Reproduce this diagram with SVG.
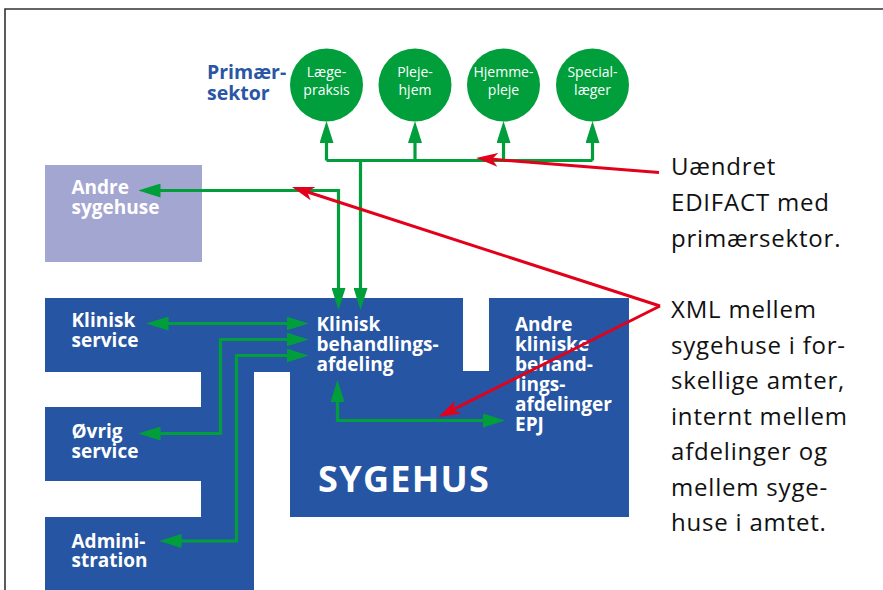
<svg xmlns="http://www.w3.org/2000/svg" width="883" height="590" viewBox="0 0 883 590">
  <style>
    .blue { fill: #2656a3; }
    .lav { fill: #a3a6d1; }
    .circ { fill: #009f3c; }
    .lbl { font-family: "Open Sans", "Liberation Sans", sans-serif; font-weight: 700; font-size: 19px; fill: #ffffff; }
    .small { font-family: "Open Sans", "Liberation Sans", sans-serif; font-size: 14px; fill: #ffffff; text-anchor: middle; }
    .note { font-family: "Open Sans", "Liberation Sans", sans-serif; font-size: 24px; letter-spacing: 0.8px; fill: #111111; }
    .prim { font-family: "Open Sans", "Liberation Sans", sans-serif; font-weight: 700; font-size: 19.5px; fill: #2a56a5; }
    .big { font-family: "Open Sans", "Liberation Sans", sans-serif; font-weight: 700; font-size: 36px; fill: #ffffff; letter-spacing: 1.3px; }
    .g { fill: none; stroke: #009f3c; stroke-width: 3.2; }
    .gm { marker-end: url(#ga); }
    .gb { marker-start: url(#ga); marker-end: url(#ga); }
    .r { fill: none; stroke: #e2001a; stroke-width: 3; marker-end: url(#ra); }
  </style>
  <defs>
    <marker id="ga" markerUnits="userSpaceOnUse" markerWidth="22" markerHeight="14" refX="12" refY="7" orient="auto-start-reverse" viewBox="0 0 22 14">
      <path d="M0,0 L22,7 L0,14 Z" fill="#009f3c"/>
    </marker>
    <marker id="ra" markerUnits="userSpaceOnUse" markerWidth="22" markerHeight="14" refX="8" refY="7" orient="auto" viewBox="0 0 22 14">
      <path d="M22,7 L0,0 L6,7 L0,14 Z" fill="#e2001a"/>
    </marker>
  </defs>

  <rect width="883" height="590" fill="#ffffff"/>
  <!-- page frame -->
  <path d="M5,590 V9 H883" fill="none" stroke="#333333" stroke-width="1.6"/>

  <!-- primary sector -->
  <g id="primaersektor">
    <text class="prim" x="207" y="79">Primær-</text>
    <text class="prim" x="207" y="99.5">sektor</text>
  </g>
  <g id="laegepraksis">
    <circle class="circ" cx="326.5" cy="85" r="36.5"/>
    <text class="small" x="326.5" y="77">Læge-</text>
    <text class="small" x="326.5" y="95">praksis</text>
  </g>
  <g id="plejehjem">
    <circle class="circ" cx="415" cy="85" r="36.5"/>
    <text class="small" x="415" y="77">Pleje-</text>
    <text class="small" x="415" y="95">hjem</text>
  </g>
  <g id="hjemmepleje">
    <circle class="circ" cx="503.5" cy="85" r="36.5"/>
    <text class="small" x="503.5" y="77">Hjemme-</text>
    <text class="small" x="503.5" y="95">pleje</text>
  </g>
  <g id="speciallaeger">
    <circle class="circ" cx="592.5" cy="85" r="36.5"/>
    <text class="small" x="592.5" y="77">Special-</text>
    <text class="small" x="592.5" y="95">læger</text>
  </g>

  <!-- other hospitals -->
  <g id="andre-sygehuse">
    <rect class="lav" x="45" y="165" width="157" height="97"/>
    <text class="lbl" x="71.5" y="193.5">Andre</text>
    <text class="lbl" x="71.5" y="214">sygehuse</text>
  </g>

  <!-- hospital body -->
  <g id="sygehus">
    <rect class="blue" x="201" y="298" width="53" height="292"/>
    <path class="blue" d="M290,298 H463 V371 H489 V298 H629 V517 H290 Z"/>
    <text class="big" x="318" y="492">SYGEHUS</text>
  </g>
  <g id="klinisk-service">
    <rect class="blue" x="45" y="298" width="246" height="74"/>
    <text class="lbl" x="71.5" y="327">Klinisk</text>
    <text class="lbl" x="71.5" y="347">service</text>
  </g>
  <g id="oevrig-service">
    <rect class="blue" x="45" y="407" width="157" height="74"/>
    <text class="lbl" x="71.5" y="438">Øvrig</text>
    <text class="lbl" x="71.5" y="457.5">service</text>
  </g>
  <g id="administration">
    <rect class="blue" x="45" y="517" width="209" height="73"/>
    <text class="lbl" x="71.5" y="547.5">Admini-</text>
    <text class="lbl" x="71.5" y="567">stration</text>
  </g>
  <g id="klinisk-behandlingsafdeling">
    <text class="lbl" x="316.5" y="331">Klinisk</text>
    <text class="lbl" x="316.5" y="351">behandlings-</text>
    <text class="lbl" x="316.5" y="371">afdeling</text>
  </g>
  <g id="andre-kliniske-afdelinger">
    <text class="lbl" x="515" y="330.5">Andre</text>
    <text class="lbl" x="515" y="350.5">kliniske</text>
    <text class="lbl" x="515" y="370.5">behand-</text>
    <text class="lbl" x="515" y="390.5">lings-</text>
    <text class="lbl" x="515" y="411">afdelinger</text>
    <text class="lbl" x="515" y="431">EPJ</text>
  </g>

  <!-- notes -->
  <g id="note-edifact">
    <text class="note" x="671" y="175">Uændret</text>
    <text class="note" x="671" y="211">EDIFACT med</text>
    <text class="note" x="671" y="247">primærsektor.</text>
  </g>
  <g id="note-xml">
    <text class="note" x="671" y="318">XML mellem</text>
    <text class="note" x="671" y="353.5">sygehuse i for-</text>
    <text class="note" x="671" y="389">skellige amter,</text>
    <text class="note" x="671" y="424.5">internt mellem</text>
    <text class="note" x="671" y="460">afdelinger og</text>
    <text class="note" x="671" y="495.5">mellem syge-</text>
    <text class="note" x="671" y="531">huse i amtet.</text>
  </g>

  <!-- connectors -->
  <g id="connectors">
    <path class="g" d="M326.5,160.5 H592.5"/>
    <path class="g gm" d="M326.5,160.5 V131"/>
    <path class="g gm" d="M415,160.5 V131"/>
    <path class="g gm" d="M503.5,160.5 V131"/>
    <path class="g gm" d="M592.5,160.5 V131"/>
    <path class="g gm" d="M360.5,160.5 V300"/>
    <path class="g gb" d="M338.5,300 V190.5 H148.5"/>
    <path class="g gb" d="M156.5,323.5 H298.5"/>
    <path class="g gb" d="M298.5,339.5 H220.5 V433.5 H148.5"/>
    <path class="g gb" d="M298.5,355.5 H236.5 V541 H169.5"/>
    <path class="g gb" d="M337.5,390 V420.5 H495"/>
    <path class="r" d="M659,172.5 L490,159.1"/>
    <path class="r" d="M660,306 L305.3,191.3"/>
    <path class="r" d="M660,306 L451,410.7"/>
  </g>
</svg>
